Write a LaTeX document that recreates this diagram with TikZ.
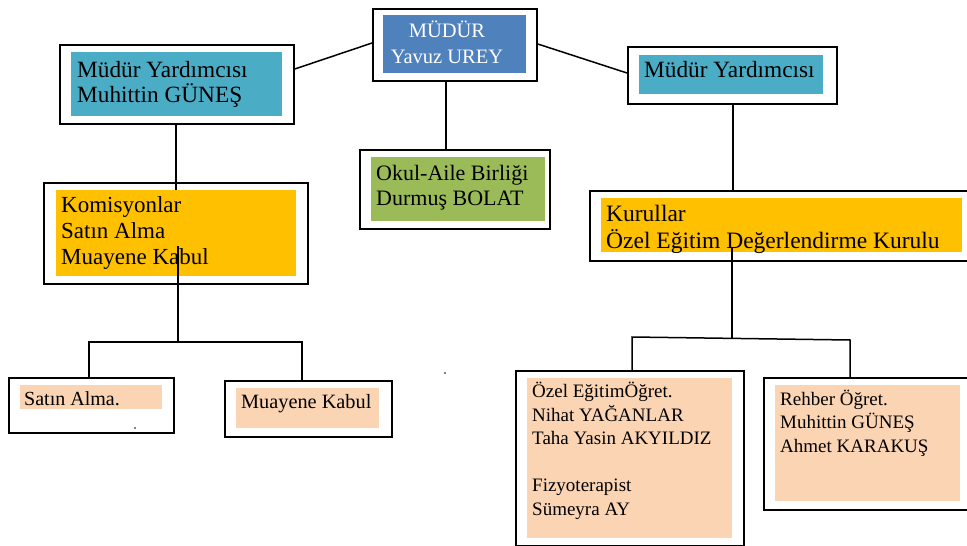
\documentclass[tikz,border=0pt]{standalone}
\usepackage{fontspec}
\setmainfont{Liberation Serif}
\usetikzlibrary{calc}
\definecolor{cblue}{HTML}{4F81BD}
\definecolor{cteal}{HTML}{4BACC6}
\definecolor{cgreen}{HTML}{9BBB59}
\definecolor{corange}{HTML}{FFC000}
\definecolor{cpeach}{HTML}{FBD4B4}
\tikzset{
  outerbox/.style={draw=black, line width=1.8pt, inner sep=0pt, anchor=north west},
  fillbox/.style={inner sep=0pt, anchor=north west},
  txt/.style={inner sep=0pt, anchor=base west, align=left},
  conn/.style={draw=black, line width=1.5pt},
}
\begin{document}
\begin{tikzpicture}[x=1pt,y=-1pt]
\useasboundingbox (0,0) rectangle (967,546);
% MUDUR
\node[outerbox, minimum width=164pt, minimum height=72pt] (mudur) at (372,8) {};
\node[fillbox, fill=cblue, minimum width=143pt, minimum height=58pt] (mudurF) at (383,15) {};
\node[inner sep=0pt, anchor=base, align=center, text=white, font=\fontsize{20.5}{26}\selectfont] (mudurT) at (447,63) {MÜDÜR\\Yavuz UREY};
% left MY
\node[outerbox, minimum width=234pt, minimum height=79pt] (lmy) at (59,44) {};
\node[fillbox, fill=cteal, minimum width=211pt, minimum height=64pt] (lmyF) at (71,52) {};
\node[txt, font=\fontsize{23.3}{25}\selectfont] (lmyT) at (77,102) {Müdür Yardımcısı\\Muhittin GÜNEŞ};
% right MY
\node[outerbox, minimum width=209pt, minimum height=57pt] (rmy) at (627,46) {};
\node[fillbox, fill=cteal, minimum width=184pt, minimum height=39pt] (rmyF) at (639,55) {};
\node[txt, font=\fontsize{23.3}{25}\selectfont] (rmyT) at (644,77) {Müdür Yardımcısı};
% Okul-Aile
\node[outerbox, minimum width=190pt, minimum height=79pt] (okul) at (359,149) {};
\node[fillbox, fill=cgreen, minimum width=174pt, minimum height=64pt] (okulF) at (371,157) {};
\node[txt, font=\fontsize{22}{25}\selectfont] (okulT) at (376,205) {Okul-Aile Birliği\\Durmuş BOLAT};
% Komisyonlar
\node[outerbox, minimum width=264pt, minimum height=101pt] (kom) at (43,182) {};
\node[fillbox, fill=corange, minimum width=240pt, minimum height=86pt] (komF) at (56,190) {};
\node[txt, font=\fontsize{23}{26}\selectfont] (komT) at (61,264) {Komisyonlar\\Satın Alma\\Muayene Kabul};
% Kurullar
\node[outerbox, minimum width=378pt, minimum height=70pt] (kur) at (589,190) {};
\node[fillbox, fill=corange, minimum width=361pt, minimum height=54pt] (kurF) at (601,198) {};
\node[txt, font=\fontsize{23.5}{27}\selectfont] (kurT) at (606,248) {Kurullar\\Özel Eğitim Değerlendirme Kurulu};
% Satin Alma
\node[outerbox, minimum width=165pt, minimum height=55pt] (satin) at (8,377) {};
\node[fillbox, fill=cpeach, minimum width=142pt, minimum height=24pt] (satinF) at (20,385) {};
\node[txt, font=\fontsize{20}{24}\selectfont] (satinT) at (24,405) {Satın Alma.};
% Muayene Kabul
\node[outerbox, minimum width=167pt, minimum height=56pt] (muay) at (224,380) {};
\node[fillbox, fill=cpeach, minimum width=143pt, minimum height=40pt] (muayF) at (236,388) {};
\node[txt, font=\fontsize{20.3}{24}\selectfont] (muayT) at (241,408) {Muayene Kabul};
% Ozel Egitim
\node[outerbox, minimum width=228pt, minimum height=175pt] (ozel) at (515,370) {};
\node[fillbox, fill=cpeach, minimum width=205pt, minimum height=160pt] (ozelF) at (527,378) {};
\node[txt, font=\fontsize{19}{23.5}\selectfont] (ozelT) at (532,515) {Özel EğitimÖğret.\\Nihat YAĞANLAR\\Taha Yasin AKYILDIZ\\[23.5pt]Fizyoterapist\\Sümeyra AY};
% Rehber
\node[outerbox, minimum width=204pt, minimum height=132pt] (reh) at (763,377) {};
\node[fillbox, fill=cpeach, minimum width=185pt, minimum height=116pt] (rehF) at (775,385) {};
\node[txt, font=\fontsize{19}{23.5}\selectfont] (rehT) at (780,452) {Rehber Öğret.\\Muhittin GÜNEŞ\\Ahmet KARAKUŞ};
% connectors
\draw[conn] ([yshift=-25pt]lmy.north east) -- ([yshift=-35pt]mudur.north west);
\draw[conn] ([yshift=-36pt]mudur.north east) -- ([yshift=-27pt]rmy.north west);
\coordinate (m1) at (446,0);
\draw[conn] (mudur.south -| m1) -- (m1 |- okul.north);
\coordinate (lk) at (176,0);
\draw[conn] (lmy.south -| lk) -- (lk |- komF.north);
\coordinate (rk) at (733,0);
\draw[conn] (rmy.south -| rk) -- (rk |- kur.north);
% lower left tree
\coordinate (kb) at (178,246);
\coordinate (kj) at (178,342);
\coordinate (kl) at (89,342);
\coordinate (kr) at (302,342);
\draw[conn] (kb) -- (kj);
\draw[conn] (kl |- satin.north) -- (kl) -- (kr) -- (kr |- muay.north);
% lower right tree
\coordinate (rb) at (732,248);
\coordinate (rj) at (732,338);
\coordinate (rl) at (632,337);
\coordinate (rr) at (850,340);
\draw[conn] (rb) -- (rj);
\draw[conn] (rl |- ozel.north) -- (rl) -- (rr) -- (rr |- reh.north);
% stray dots
\fill (135,428) circle (0.8pt);
\fill (445,373) circle (0.8pt);
\end{tikzpicture}
\end{document}
